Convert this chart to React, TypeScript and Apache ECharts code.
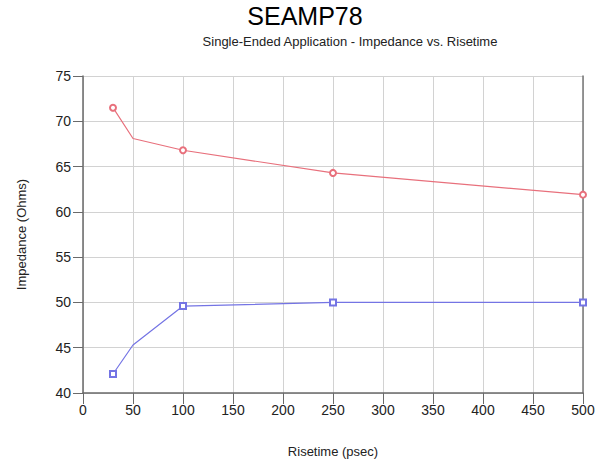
import React, { useEffect, useRef } from "react";
import * as echarts from "echarts";

const risetime = [30, 50, 100, 250, 500];
const redValues = [71.5, 68.1, 66.8, 64.3, 61.9];
const blueValues = [42.1, 45.3, 49.6, 50.0, 50.0];
const markerShown = [true, false, true, true, true];
const xTicks = [0, 50, 100, 150, 200, 250, 300, 350, 400, 450, 500];
const yTicks = [40, 45, 50, 55, 60, 65, 70, 75];

const FONT = "Liberation Sans, Arial, sans-serif";

export default function App() {
  const ref = useRef<HTMLDivElement>(null);
  useEffect(() => {
    if (!ref.current) return;
    const chart = echarts.init(ref.current, undefined, { renderer: "svg" });
    const mk = (vals: number[], sym: string) =>
      risetime.map((x, i) => ({
        value: [x, vals[i]],
        symbol: markerShown[i] ? sym : "none",
      }));
    chart.setOption({
      animation: false,
      backgroundColor: "#ffffff",
      title: [
        {
          text: "SEAMP78",
          left: "center",
          top: -2,
          textStyle: { fontFamily: FONT, fontSize: 25, fontWeight: "normal", color: "#000" },
        },
        {
          text: "Single-Ended Application - Impedance vs. Risetime",
          left: 345,
          textAlign: "center",
          top: 30,
          textStyle: { fontFamily: FONT, fontSize: 13, fontWeight: "normal", color: "#222" },
        },
      ],
      grid: { left: 83, right: 27, top: 76, bottom: 75, containLabel: false },
      xAxis: {
        type: "value",
        min: 0,
        max: 500,
        interval: 50,
        name: "Risetime (psec)",
        nameLocation: "middle",
        nameGap: 52,
        nameTextStyle: { fontFamily: FONT, fontSize: 13, color: "#222" },
        axisLine: { show: true, lineStyle: { color: "#6a6a6a", width: 1.5 } },
        axisTick: { show: true, length: 11, lineStyle: { color: "#6a6a6a" } },
        axisLabel: {
          fontFamily: FONT,
          fontSize: 14,
          color: "#222",
          margin: 10,
          formatter: (v: number) => (xTicks.includes(v) ? String(v) : ""),
        },
        splitLine: { show: true, lineStyle: { color: "#d2d2d2", width: 1 } },
      },
      yAxis: [
        {
          type: "value",
          min: 40,
          max: 75,
          interval: 5,
          name: "Impedance (Ohms)",
          nameLocation: "middle",
          nameGap: 55,
          nameTextStyle: { fontFamily: FONT, fontSize: 13, color: "#222" },
          axisLine: { show: true, lineStyle: { color: "#6a6a6a", width: 1.5 } },
          axisTick: { show: true, length: 10, lineStyle: { color: "#6a6a6a" } },
          axisLabel: {
            fontFamily: FONT,
            fontSize: 14,
            color: "#222",
            margin: 12,
            formatter: (v: number) => (yTicks.includes(v) ? String(v) : ""),
          },
          splitLine: { show: true, lineStyle: { color: "#d2d2d2", width: 1 } },
        },
        {
          type: "value",
          min: 40,
          max: 75,
          interval: 5,
          position: "right",
          axisLine: { show: true, lineStyle: { color: "#777", width: 1.5 } },
          axisTick: { show: false },
          axisLabel: { show: false },
          splitLine: { show: false },
        },
      ],
      series: [
        {
          type: "line",
          data: mk(redValues, "emptyCircle"),
          symbolSize: 6,
          lineStyle: { color: "#e8707c", width: 1.2 },
          itemStyle: { color: "#e8707c", borderWidth: 1.2 },
        },
        {
          type: "line",
          data: mk(blueValues, "emptyRect"),
          symbolSize: 6,
          lineStyle: { color: "#7474e4", width: 1.2 },
          itemStyle: { color: "#7474e4", borderWidth: 1.2 },
        },
      ],
    });
    return () => chart.dispose();
  }, []);
  return <div ref={ref} style={{ width: 610, height: 468, position: "absolute", left: 0, top: 0 }} />;
}
